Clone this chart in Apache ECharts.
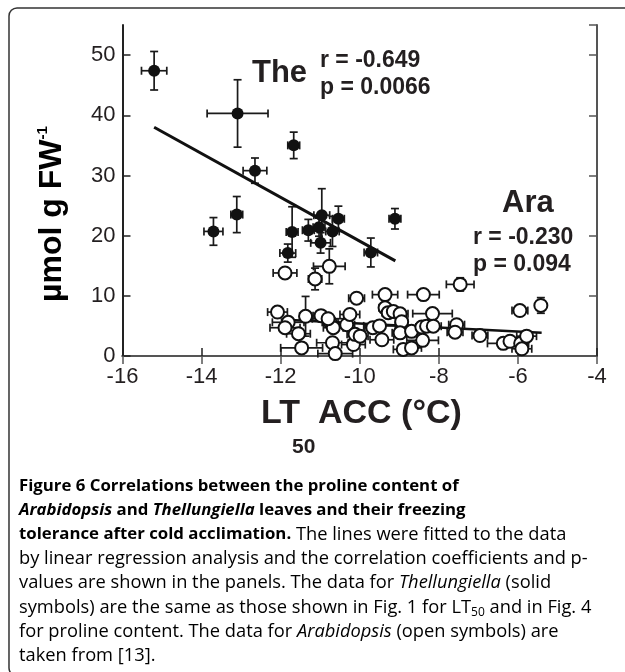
<!DOCTYPE html>
<html><head><meta charset="utf-8">
<script src="https://cdn.jsdelivr.net/npm/echarts@6/dist/echarts.min.js"></script>
<style>html,body{margin:0;padding:0;background:#fff}#c{width:625px;height:672px}</style>
</head><body><div id="c"></div>
<script>
// Thellungiella (solid symbols)
const theX = [-15.20,-13.09,-12.65,-11.67,-13.70,-13.11,-11.82,-11.71,-11.30,-11.03,-10.96,-10.99,-10.69,-10.54,-9.11,-9.72];
const theY = [47.4,40.3,30.8,35.0,20.7,23.5,17.1,20.6,20.9,21.4,23.4,18.8,20.7,22.8,22.8,17.2];
const theXErr = [0.32,0.77,0.30,0.15,0.24,0.15,0.20,0.15,0.15,0.15,0.20,0.25,0.17,0.15,0.15,0.17];
const theYErr = [3.2,5.6,2.1,2.2,2.3,3.0,1.5,4.2,1.8,1.5,4.4,1.7,2.5,2.1,1.7,2.4];
// Arabidopsis (open symbols)
const araX = [-11.89,-11.13,-10.77,-10.08,-9.36,-8.39,-7.46,-5.95,-5.42,-12.08,
              -11.81,-11.89,-11.55,-11.37,-11.47,-10.98,-10.75,-10.67,-10.69,-10.62,
              -10.33,-10.25,-10.16,-10.12,-9.99,-9.67,-9.44,-9.36,-9.28,-9.15,
              -8.98,-8.94,-8.98,-8.90,-8.69,-8.69,-8.43,-8.31,-8.16,-8.14,
              -8.41,-7.55,-7.59,-6.96,-6.37,-6.20,-5.93,-5.78,-5.90,-10.80,-9.50];
const araY = [13.8,12.8,14.9,9.6,10.2,10.2,11.9,7.55,8.4,7.3,
              5.6,4.7,3.7,6.6,1.35,6.7,5.6,4.7,2.2,0.4,
              5.2,6.9,1.9,3.6,3.3,4.7,2.7,8.0,7.2,7.4,
              7.0,5.7,3.85,1.1,4.1,1.35,4.8,4.95,7.05,4.95,
              2.6,5.2,3.95,3.4,2.1,2.45,2.1,3.3,1.2,6.2,5.0];
const araXErr = [0.30,0.17,0.40,0.20,0.32,0.40,0.35,0.20,0.10,0.25,
                 0.40,0.38,0.30,0.15,0.53,0.20,0.20,0.25,0.40,0.44,
                 0.20,0.25,0.30,0.20,0.20,0.20,0.30,0.15,0.15,0.20,
                 0.20,0.15,0.20,0.25,0.20,0.25,0.15,0.15,0.50,0.20,
                 0.40,0.20,0.20,0.20,0.40,0.20,0.20,0.25,0.25,0.40,0.40];
const araYErr = [0.8,1.8,2.9,0.5,0.5,0.5,1.1,0.5,1.3,0.5,
                 0.8,0.6,0.6,3.3,0.5,0.6,0.6,0.5,0.5,0.4,
                 0.5,0.6,0.5,0.5,0.5,0.5,0.5,0.6,0.5,0.5,
                 0.5,0.5,0.5,0.5,0.5,0.5,0.5,0.5,0.6,0.5,
                 0.5,0.8,0.5,0.5,0.5,0.5,0.5,0.5,0.5,0.5,0.5];
// Regression lines (end points)
const theFitX = [-15.2, -9.1];
const theFitY = [38.0, 15.8];
const araFitX = [-12.0, -5.4];
const araFitY = [6.05, 3.85];
// Annotations
const theLabel = 'The', theR = 'r = -0.649', theP = 'p = 0.0066';
const araLabel = 'Ara', araR = 'r = -0.230', araP = 'p = 0.094';

const zip4 = (a,b,c,d) => a.map((v,i)=>[v,b[i],c[i],d[i]]);
const zip2 = (a,b) => a.map((v,i)=>[v,b[i]]);

function errRender(params, api) {
  const x = api.value(0), y = api.value(1), xe = api.value(2), ye = api.value(3);
  const l = api.coord([x - xe, y]), r = api.coord([x + xe, y]);
  const t = api.coord([x, y + ye]), b = api.coord([x, y - ye]);
  const cap = 4;
  const st = {stroke: '#1a1a1a', lineWidth: 1.7, fill: null};
  const ln = (x1,y1,x2,y2) => ({type:'line', shape:{x1,y1,x2,y2}, style: st});
  return {type:'group', children:[
    ln(l[0], l[1], r[0], r[1]),
    ln(l[0], l[1]-cap, l[0], l[1]+cap),
    ln(r[0], r[1]-cap, r[0], r[1]+cap),
    ln(t[0], t[1], b[0], b[1]),
    ln(t[0]-cap, t[1], t[0]+cap, t[1]),
    ln(b[0]-cap, b[1], b[0]+cap, b[1])
  ]};
}

const axFont = 'Liberation Sans, Arial, sans-serif';
const capFont = '"Open Sans", sans-serif';
const regSize = 18.3, boldSize = 16.8;
const rich = {
  b: {fontFamily: capFont, fontSize: boldSize, fontWeight: 'bold', color: '#231f20', lineHeight: 22},
  bi: {fontFamily: capFont, fontSize: boldSize, fontWeight: 'bold', fontStyle: 'italic', color: '#231f20', lineHeight: 22},
  n: {fontFamily: capFont, fontSize: regSize, color: '#231f20', lineHeight: 22},
  i: {fontFamily: capFont, fontSize: regSize, fontStyle: 'italic', color: '#231f20', lineHeight: 22},
  s: {fontFamily: capFont, fontSize: 12, color: '#231f20', lineHeight: 12, verticalAlign: 'bottom'}
};
const captionLines = [
  '{b|Figure 6 Correlations between the proline content of}',
  '{bi|Arabidopsis}{b| and }{bi|Thellungiella}{b| leaves and their freezing}',
  '{b|tolerance after cold acclimation.}{n| The lines were fitted to the data}',
  '{n|by linear regression analysis and the correlation coefficients and p-}',
  '{n|values are shown in the panels. The data for }{i|Thellungiella}{n| (solid}',
  '{n|symbols) are the same as those shown in Fig. 1 for LT}{s|50}{n| and in Fig. 4}',
  '{n|for proline content. The data for }{i|Arabidopsis}{n| (open symbols) are}',
  '{n|taken from [13].}'
];

const graphics = [
  {type:'rect', shape:{x:9, y:8, width:1000, height:668, r:8}, style:{fill:null, stroke:'#333', lineWidth:1.5}, silent:true},
  {type:'text', x:252, y:73, style:{text: theLabel, font:'bold 31px ' + axFont, fill:'#231f20', textVerticalAlign:'middle'}},
  {type:'text', x:320, y:60.5, style:{text: theR, font:'bold 23px ' + axFont, fill:'#231f20', textVerticalAlign:'middle'}},
  {type:'text', x:320, y:87.5, style:{text: theP, font:'bold 23px ' + axFont, fill:'#231f20', textVerticalAlign:'middle'}},
  {type:'text', x:502, y:203, style:{text: araLabel, font:'bold 31px ' + axFont, fill:'#231f20', textVerticalAlign:'middle'}},
  {type:'text', x:473, y:237.5, style:{text: araR, font:'bold 23px ' + axFont, fill:'#231f20', textVerticalAlign:'middle'}},
  {type:'text', x:473, y:264.5, style:{text: araP, font:'bold 23px ' + axFont, fill:'#231f20', textVerticalAlign:'middle'}},
  // x axis title
  {type:'text', x:300, y:414, style:{text:'LT', font:'bold 34px ' + axFont, fill:'#231f20', textAlign:'right', textVerticalAlign:'middle'}},
  {type:'text', x:292, y:447, style:{text:'50', font:'bold 21px ' + axFont, fill:'#231f20', textAlign:'left', textVerticalAlign:'middle'}},
  {type:'text', x:318, y:414, style:{text:'ACC (°C)', font:'bold 34px ' + axFont, fill:'#231f20', textAlign:'left', textVerticalAlign:'middle'}},
  // y axis title
  {type:'text', x:52, y:302, rotation: Math.PI/2, style:{
    text:'{a|µmol g FW}{p|-1}', textAlign:'left', textVerticalAlign:'middle',
    rich:{a:{fontFamily:axFont, fontSize:32, fontWeight:'bold', color:'#231f20', lineHeight:34},
          p:{fontFamily:axFont, fontSize:15, fontWeight:'bold', color:'#231f20', lineHeight:16, verticalAlign:'top'}}}}
];
captionLines.forEach((t, k) => {
  graphics.push({type:'text', x:19, y:486 + 24.3*k, style:{text:t, rich, textVerticalAlign:'middle', textAlign:'left'}});
});

const xBase = {type:'value', min:-16, max:-4, interval:2, splitLine:{show:false}};
const yBase = {type:'value', min:0, max:55, interval:10, splitLine:{show:false}};
const option = {
  animation:false,
  backgroundColor:'#fff',
  grid:{left:122.5, right:28, top:25, bottom:316},
  xAxis:[
    Object.assign({}, xBase, {position:'bottom',
      axisLine:{lineStyle:{color:'#222', width:2}},
      axisTick:{inside:true, length:8, lineStyle:{color:'#222', width:1.5}},
      axisLabel:{fontFamily:axFont, fontSize:22, color:'#231f20', margin:10}}),
    Object.assign({}, xBase, {position:'top',
      axisLine:{lineStyle:{color:'#555', width:2}},
      axisTick:{inside:true, length:8, lineStyle:{color:'#555', width:1.5}},
      axisLabel:{show:false}})
  ],
  yAxis:[
    Object.assign({}, yBase, {position:'left',
      axisLine:{lineStyle:{color:'#222', width:2}},
      axisTick:{inside:true, length:8, lineStyle:{color:'#222', width:1.5}},
      axisLabel:{fontFamily:axFont, fontSize:22, color:'#231f20', margin:7, showMaxLabel:false,
                 formatter: v => (v % 10 === 0 ? String(v) : '')}}),
    Object.assign({}, yBase, {position:'right',
      axisLine:{lineStyle:{color:'#555', width:2}},
      axisTick:{inside:true, length:8, lineStyle:{color:'#555', width:1.5}},
      axisLabel:{show:false}})
  ],
  series:[
    {type:'custom', name:'araErr', renderItem:errRender, data: zip4(araX, araY, araXErr, araYErr), z:2, silent:true},
    {type:'line', name:'araFit', data: zip2(araFitX, araFitY), symbol:'none', lineStyle:{color:'#111', width:2.5}, z:3, silent:true},
    {type:'scatter', name:'Arabidopsis', data: zip2(araX, araY), symbol:'circle', symbolSize:13,
      itemStyle:{color:'#fff', borderColor:'#111', borderWidth:2, opacity:1}, z:4},
    {type:'custom', name:'theErr', renderItem:errRender, data: zip4(theX, theY, theXErr, theYErr), z:5, silent:true},
    {type:'line', name:'theFit', data: zip2(theFitX, theFitY), symbol:'none', lineStyle:{color:'#111', width:3}, z:6, silent:true},
    {type:'scatter', name:'Thellungiella', data: zip2(theX, theY), symbol:'circle', symbolSize:12,
      itemStyle:{color:'#111', opacity:1}, z:7}
  ],
  graphic: graphics
};
const chart = echarts.init(document.getElementById('c'), null, {renderer:'canvas'});
chart.setOption(option);
</script></body></html>
